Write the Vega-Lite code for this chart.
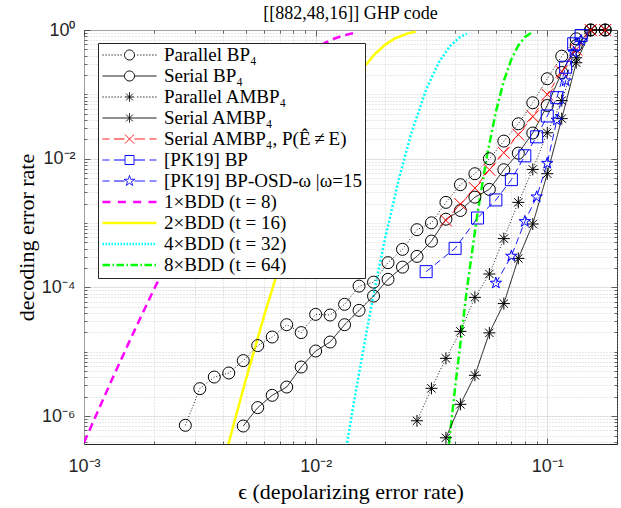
{
  "$schema": "https://vega.github.io/schema/vega-lite/v6.json",
  "width": 533,
  "height": 414,
  "autosize": {"type": "none"},
  "padding": {"left": 84, "top": 30, "right": 4, "bottom": 64},
  "background": "white",
  "title": {"text": "[[882,48,16]] GHP code", "font": "Liberation Serif", "fontSize": 18, "fontWeight": "normal", "color": "black", "offset": 9, "dy": 11, "anchor": "middle"},
  "config": {"view": {"stroke": "#262626", "strokeWidth": 1}},
  "datasets": {
    "sim": [
      {"s": "Parallel BP₄", "e": 0.0027384, "p": 7.22e-7},
      {"s": "Parallel BP₄", "e": 0.0031623, "p": 2.68e-6},
      {"s": "Parallel BP₄", "e": 0.0036517, "p": 4.06e-6},
      {"s": "Parallel BP₄", "e": 0.004217, "p": 4.69e-6},
      {"s": "Parallel BP₄", "e": 0.0048697, "p": 7.3e-6},
      {"s": "Parallel BP₄", "e": 0.0056234, "p": 1.25e-5},
      {"s": "Parallel BP₄", "e": 0.0064938, "p": 1.7e-5},
      {"s": "Parallel BP₄", "e": 0.0074989, "p": 2.64e-5},
      {"s": "Parallel BP₄", "e": 0.0086596, "p": 1.99e-5},
      {"s": "Parallel BP₄", "e": 0.01, "p": 3.82e-5},
      {"s": "Parallel BP₄", "e": 0.011548, "p": 3.73e-5},
      {"s": "Parallel BP₄", "e": 0.013335, "p": 5.47e-5},
      {"s": "Parallel BP₄", "e": 0.015399, "p": 1.05e-4},
      {"s": "Parallel BP₄", "e": 0.017783, "p": 1.21e-4},
      {"s": "Parallel BP₄", "e": 0.020535, "p": 2.43e-4},
      {"s": "Parallel BP₄", "e": 0.023714, "p": 3.91e-4},
      {"s": "Parallel BP₄", "e": 0.027384, "p": 7.9e-4},
      {"s": "Parallel BP₄", "e": 0.031623, "p": 1.01e-3},
      {"s": "Parallel BP₄", "e": 0.036517, "p": 2.1e-3},
      {"s": "Parallel BP₄", "e": 0.04217, "p": 3.95e-3},
      {"s": "Parallel BP₄", "e": 0.048697, "p": 5.85e-3},
      {"s": "Parallel BP₄", "e": 0.056234, "p": 1.0e-2},
      {"s": "Parallel BP₄", "e": 0.064938, "p": 1.88e-2},
      {"s": "Parallel BP₄", "e": 0.074989, "p": 3.49e-2},
      {"s": "Parallel BP₄", "e": 0.086596, "p": 7.41e-2},
      {"s": "Parallel BP₄", "e": 0.1, "p": 0.175},
      {"s": "Parallel BP₄", "e": 0.11548, "p": 0.392},
      {"s": "Parallel BP₄", "e": 0.13335, "p": 0.73},
      {"s": "Parallel BP₄", "e": 0.15399, "p": 1},
      {"s": "Parallel BP₄", "e": 0.17783, "p": 1},
      {"s": "Serial BP₄", "e": 0.0048697, "p": 7.04e-7},
      {"s": "Serial BP₄", "e": 0.0056234, "p": 1.36e-6},
      {"s": "Serial BP₄", "e": 0.0064938, "p": 2.11e-6},
      {"s": "Serial BP₄", "e": 0.0074989, "p": 2.84e-6},
      {"s": "Serial BP₄", "e": 0.0086596, "p": 5.81e-6},
      {"s": "Serial BP₄", "e": 0.01, "p": 1.03e-5},
      {"s": "Serial BP₄", "e": 0.011548, "p": 1.42e-5},
      {"s": "Serial BP₄", "e": 0.013335, "p": 2.64e-5},
      {"s": "Serial BP₄", "e": 0.015399, "p": 4.41e-5},
      {"s": "Serial BP₄", "e": 0.017783, "p": 7.35e-5},
      {"s": "Serial BP₄", "e": 0.020535, "p": 1.34e-4},
      {"s": "Serial BP₄", "e": 0.023714, "p": 2.07e-4},
      {"s": "Serial BP₄", "e": 0.027384, "p": 3.04e-4},
      {"s": "Serial BP₄", "e": 0.031623, "p": 5.25e-4},
      {"s": "Serial BP₄", "e": 0.036517, "p": 1.15e-3},
      {"s": "Serial BP₄", "e": 0.04217, "p": 1.57e-3},
      {"s": "Serial BP₄", "e": 0.048697, "p": 2.53e-3},
      {"s": "Serial BP₄", "e": 0.056234, "p": 3.34e-3},
      {"s": "Serial BP₄", "e": 0.064938, "p": 6.75e-3},
      {"s": "Serial BP₄", "e": 0.074989, "p": 1.22e-2},
      {"s": "Serial BP₄", "e": 0.086596, "p": 2.51e-2},
      {"s": "Serial BP₄", "e": 0.1, "p": 6.72e-2},
      {"s": "Serial BP₄", "e": 0.11548, "p": 0.219},
      {"s": "Serial BP₄", "e": 0.13335, "p": 0.574},
      {"s": "Serial BP₄", "e": 0.15399, "p": 1},
      {"s": "Serial BP₄", "e": 0.17783, "p": 1},
      {"s": "Parallel AMBP₄", "e": 0.027384, "p": 8.49e-7},
      {"s": "Parallel AMBP₄", "e": 0.031623, "p": 2.71e-6},
      {"s": "Parallel AMBP₄", "e": 0.036517, "p": 7.92e-6},
      {"s": "Parallel AMBP₄", "e": 0.04217, "p": 2.08e-5},
      {"s": "Parallel AMBP₄", "e": 0.048697, "p": 7.02e-5},
      {"s": "Parallel AMBP₄", "e": 0.056234, "p": 1.62e-4},
      {"s": "Parallel AMBP₄", "e": 0.064938, "p": 5.74e-4},
      {"s": "Parallel AMBP₄", "e": 0.074989, "p": 2.1e-3},
      {"s": "Parallel AMBP₄", "e": 0.086596, "p": 6.82e-3},
      {"s": "Parallel AMBP₄", "e": 0.1, "p": 2.53e-2},
      {"s": "Parallel AMBP₄", "e": 0.11548, "p": 0.08},
      {"s": "Parallel AMBP₄", "e": 0.13335, "p": 0.37},
      {"s": "Parallel AMBP₄", "e": 0.15399, "p": 1},
      {"s": "Parallel AMBP₄", "e": 0.17783, "p": 1},
      {"s": "Serial AMBP₄", "e": 0.036517, "p": 4.62e-7},
      {"s": "Serial AMBP₄", "e": 0.04217, "p": 1.53e-6},
      {"s": "Serial AMBP₄", "e": 0.048697, "p": 4.32e-6},
      {"s": "Serial AMBP₄", "e": 0.056234, "p": 1.97e-5},
      {"s": "Serial AMBP₄", "e": 0.064938, "p": 5.62e-5},
      {"s": "Serial AMBP₄", "e": 0.074989, "p": 2.83e-4},
      {"s": "Serial AMBP₄", "e": 0.086596, "p": 9.68e-4},
      {"s": "Serial AMBP₄", "e": 0.1, "p": 5.85e-3},
      {"s": "Serial AMBP₄", "e": 0.11548, "p": 4.2e-2},
      {"s": "Serial AMBP₄", "e": 0.13335, "p": 0.31},
      {"s": "Serial AMBP₄", "e": 0.15399, "p": 1},
      {"s": "Serial AMBP₄", "e": 0.17783, "p": 1},
      {"s": "Serial AMBP₄, P(Ê\u2009≠\u2009E)", "e": 0.036517, "p": 1.1e-3},
      {"s": "Serial AMBP₄, P(Ê\u2009≠\u2009E)", "e": 0.04217, "p": 1.97e-3},
      {"s": "Serial AMBP₄, P(Ê\u2009≠\u2009E)", "e": 0.048697, "p": 3.49e-3},
      {"s": "Serial AMBP₄, P(Ê\u2009≠\u2009E)", "e": 0.056234, "p": 6.75e-3},
      {"s": "Serial AMBP₄, P(Ê\u2009≠\u2009E)", "e": 0.064938, "p": 1.24e-2},
      {"s": "Serial AMBP₄, P(Ê\u2009≠\u2009E)", "e": 0.074989, "p": 2.37e-2},
      {"s": "Serial AMBP₄, P(Ê\u2009≠\u2009E)", "e": 0.086596, "p": 4.54e-2},
      {"s": "Serial AMBP₄, P(Ê\u2009≠\u2009E)", "e": 0.1, "p": 9.96e-2},
      {"s": "Serial AMBP₄, P(Ê\u2009≠\u2009E)", "e": 0.11548, "p": 0.227},
      {"s": "Serial AMBP₄, P(Ê\u2009≠\u2009E)", "e": 0.13335, "p": 0.498},
      {"s": "Serial AMBP₄, P(Ê\u2009≠\u2009E)", "e": 0.15399, "p": 1},
      {"s": "Serial AMBP₄, P(Ê\u2009≠\u2009E)", "e": 0.17783, "p": 1},
      {"s": "[PK19] BP", "e": 0.03, "p": 1.76e-4},
      {"s": "[PK19] BP", "e": 0.04, "p": 4.05e-4},
      {"s": "[PK19] BP", "e": 0.05, "p": 1.2e-3},
      {"s": "[PK19] BP", "e": 0.06, "p": 2.29e-3},
      {"s": "[PK19] BP", "e": 0.07, "p": 4.73e-3},
      {"s": "[PK19] BP", "e": 0.08, "p": 1.11e-2},
      {"s": "[PK19] BP", "e": 0.09, "p": 2.19e-2},
      {"s": "[PK19] BP", "e": 0.1, "p": 4.62e-2},
      {"s": "[PK19] BP", "e": 0.11, "p": 8.89e-2},
      {"s": "[PK19] BP", "e": 0.12, "p": 0.264},
      {"s": "[PK19] BP", "e": 0.13, "p": 0.61},
      {"s": "[PK19] BP", "e": 0.14, "p": 0.82},
      {"s": "[PK19] BP-OSD-ω |ω=15", "e": 0.06, "p": 1.17e-4},
      {"s": "[PK19] BP-OSD-ω |ω=15", "e": 0.07, "p": 3.07e-4},
      {"s": "[PK19] BP-OSD-ω |ω=15", "e": 0.08, "p": 1.06e-3},
      {"s": "[PK19] BP-OSD-ω |ω=15", "e": 0.09, "p": 2.56e-3},
      {"s": "[PK19] BP-OSD-ω |ω=15", "e": 0.1, "p": 8.51e-3},
      {"s": "[PK19] BP-OSD-ω |ω=15", "e": 0.11, "p": 3.99e-2},
      {"s": "[PK19] BP-OSD-ω |ω=15", "e": 0.12, "p": 0.162},
      {"s": "[PK19] BP-OSD-ω |ω=15", "e": 0.13, "p": 0.447},
      {"s": "[PK19] BP-OSD-ω |ω=15", "e": 0.14, "p": 0.687}
    ],
    "bdd": [
      {"s": "1×BDD (t = 8)", "e": 0.001, "p": 3.9e-7},
      {"s": "1×BDD (t = 8)", "e": 0.0013, "p": 3.28e-6},
      {"s": "1×BDD (t = 8)", "e": 0.0016, "p": 1.68e-5},
      {"s": "1×BDD (t = 8)", "e": 0.002, "p": 9.2e-5},
      {"s": "1×BDD (t = 8)", "e": 0.0025, "p": 4.66e-4},
      {"s": "1×BDD (t = 8)", "e": 0.003, "p": 1.64e-3},
      {"s": "1×BDD (t = 8)", "e": 0.004, "p": 1.019e-2},
      {"s": "1×BDD (t = 8)", "e": 0.005, "p": 3.58e-2},
      {"s": "1×BDD (t = 8)", "e": 0.006, "p": 8.82e-2},
      {"s": "1×BDD (t = 8)", "e": 0.007, "p": 0.1706},
      {"s": "1×BDD (t = 8)", "e": 0.008, "p": 0.2782},
      {"s": "1×BDD (t = 8)", "e": 0.009, "p": 0.3999},
      {"s": "1×BDD (t = 8)", "e": 0.01, "p": 0.5209},
      {"s": "1×BDD (t = 8)", "e": 0.011, "p": 0.634},
      {"s": "1×BDD (t = 8)", "e": 0.012, "p": 0.7306},
      {"s": "1×BDD (t = 8)", "e": 0.013, "p": 0.8086},
      {"s": "1×BDD (t = 8)", "e": 0.014, "p": 0.8683},
      {"s": "1×BDD (t = 8)", "e": 0.015, "p": 0.912},
      {"s": "1×BDD (t = 8)", "e": 0.0152, "p": 0.9195},
      {"s": "2×BDD (t = 16)", "e": 0.004, "p": 1.88e-7},
      {"s": "2×BDD (t = 16)", "e": 0.0045, "p": 9.31e-7},
      {"s": "2×BDD (t = 16)", "e": 0.005, "p": 3.73e-6},
      {"s": "2×BDD (t = 16)", "e": 0.006, "p": 3.69e-5},
      {"s": "2×BDD (t = 16)", "e": 0.007, "p": 2.27e-4},
      {"s": "2×BDD (t = 16)", "e": 0.008, "p": 9.87e-4},
      {"s": "2×BDD (t = 16)", "e": 0.009, "p": 3.29e-3},
      {"s": "2×BDD (t = 16)", "e": 0.01, "p": 8.93e-3},
      {"s": "2×BDD (t = 16)", "e": 0.011, "p": 2.05e-2},
      {"s": "2×BDD (t = 16)", "e": 0.012, "p": 4.11e-2},
      {"s": "2×BDD (t = 16)", "e": 0.014, "p": 0.1197},
      {"s": "2×BDD (t = 16)", "e": 0.016, "p": 0.2532},
      {"s": "2×BDD (t = 16)", "e": 0.018, "p": 0.4223},
      {"s": "2×BDD (t = 16)", "e": 0.02, "p": 0.5943},
      {"s": "2×BDD (t = 16)", "e": 0.022, "p": 0.741},
      {"s": "2×BDD (t = 16)", "e": 0.025, "p": 0.8881},
      {"s": "2×BDD (t = 16)", "e": 0.027, "p": 0.9421},
      {"s": "4×BDD (t = 32)", "e": 0.0135, "p": 2.92e-7},
      {"s": "4×BDD (t = 32)", "e": 0.014, "p": 6.43e-7},
      {"s": "4×BDD (t = 32)", "e": 0.015, "p": 2.755e-6},
      {"s": "4×BDD (t = 32)", "e": 0.017, "p": 3.31e-5},
      {"s": "4×BDD (t = 32)", "e": 0.0185, "p": 1.57e-4},
      {"s": "4×BDD (t = 32)", "e": 0.02, "p": 6.04e-4},
      {"s": "4×BDD (t = 32)", "e": 0.023, "p": 5.25e-3},
      {"s": "4×BDD (t = 32)", "e": 0.026, "p": 2.627e-2},
      {"s": "4×BDD (t = 32)", "e": 0.03, "p": 0.1186},
      {"s": "4×BDD (t = 32)", "e": 0.034, "p": 0.3124},
      {"s": "4×BDD (t = 32)", "e": 0.038, "p": 0.5607},
      {"s": "4×BDD (t = 32)", "e": 0.042, "p": 0.774},
      {"s": "4×BDD (t = 32)", "e": 0.045, "p": 0.8804},
      {"s": "8×BDD (t = 64)", "e": 0.037, "p": 2.1e-7},
      {"s": "8×BDD (t = 64)", "e": 0.038, "p": 5.17e-7},
      {"s": "8×BDD (t = 64)", "e": 0.04, "p": 2.79e-6},
      {"s": "8×BDD (t = 64)", "e": 0.045, "p": 9.53e-5},
      {"s": "8×BDD (t = 64)", "e": 0.05, "p": 1.444e-3},
      {"s": "8×BDD (t = 64)", "e": 0.055, "p": 1.14e-2},
      {"s": "8×BDD (t = 64)", "e": 0.06, "p": 5.36e-2},
      {"s": "8×BDD (t = 64)", "e": 0.065, "p": 0.1635},
      {"s": "8×BDD (t = 64)", "e": 0.07, "p": 0.3517},
      {"s": "8×BDD (t = 64)", "e": 0.075, "p": 0.5768},
      {"s": "8×BDD (t = 64)", "e": 0.08, "p": 0.7717},
      {"s": "8×BDD (t = 64)", "e": 0.085, "p": 0.8987}
    ]
  },
  "layer": [
    {
      "data": {"name": "bdd"},
      "mark": {"type": "line", "strokeWidth": 2.5, "clip": true},
      "encoding": {
        "x": {"field": "e", "type": "quantitative", "scale": {"type": "log", "domain": [0.001, 0.2], "nice": false},
          "axis": {"orient": "top", "values": [0.001,0.002,0.003,0.004,0.005,0.006,0.007,0.008,0.009,0.01,0.02,0.03,0.04,0.05,0.06,0.07,0.08,0.09,0.1,0.2],
            "labels": false, "grid": false, "domain": false, "title": null, "tickColor": "#262626", "tickWidth": 0.7,
            "tickSize": {"condition": {"test": "datum.value == 0.001 || datum.value == 0.01 || datum.value == 0.1", "value": -6}, "value": -3}}},
        "y": {"field": "p", "type": "quantitative", "scale": {"type": "log", "domain": [3.7e-7, 1], "nice": false},
          "axis": {"orient": "right", "values": [4e-7,5e-7,6e-7,7e-7,8e-7,9e-7,1e-6,2e-6,3e-6,4e-6,5e-6,6e-6,7e-6,8e-6,9e-6,1e-5,2e-5,3e-5,4e-5,5e-5,6e-5,7e-5,8e-5,9e-5,0.0001,0.0002,0.0003,0.0004,0.0005,0.0006,0.0007,0.0008,0.0009,0.001,0.002,0.003,0.004,0.005,0.006,0.007,0.008,0.009,0.01,0.02,0.03,0.04,0.05,0.06,0.07,0.08,0.09,0.1,0.2,0.3,0.4,0.5,0.6,0.7,0.8,0.9,1],
            "labels": false, "grid": false, "domain": false, "title": null, "tickColor": "#262626", "tickWidth": 0.7,
            "tickSize": {"condition": {"test": "datum.value == 1 || datum.value == 0.01 || datum.value == 0.0001 || datum.value == 0.000001", "value": -6}, "value": -3}}},
        "color": {"field": "s", "type": "nominal",
          "scale": {"domain": ["Parallel BP₄","Serial BP₄","Parallel AMBP₄","Serial AMBP₄","Serial AMBP₄, P(Ê\u2009≠\u2009E)","[PK19] BP","[PK19] BP-OSD-ω |ω=15","1×BDD (t = 8)","2×BDD (t = 16)","4×BDD (t = 32)","8×BDD (t = 64)"],
            "range": ["#000000","#000000","#000000","#000000","#ff0000","#0000ff","#0000ff","#ff00ff","#ffff00","#00ffff","#00ff00"]}},
        "strokeDash": {"field": "s", "type": "nominal",
          "scale": {"domain": ["8×BDD (t = 64)","4×BDD (t = 32)","2×BDD (t = 16)","1×BDD (t = 8)","[PK19] BP-OSD-ω |ω=15","[PK19] BP","Serial AMBP₄, P(Ê\u2009≠\u2009E)","Serial AMBP₄","Parallel AMBP₄","Serial BP₄","Parallel BP₄"],
            "range": [[8,3,2,3],[2,2],[1,0],[8,5],[7,4],[7,4],[6,4],[1,0],[1,2],[1,0],[1,2]]},
          "legend": null}
      }
    },
    {
      "data": {"name": "sim"},
      "mark": {"type": "line", "strokeWidth": 0.9},
      "encoding": {
        "x": {"field": "e", "type": "quantitative", "scale": {"type": "log", "domain": [0.001, 0.2], "nice": false},
          "axis": {"orient": "bottom", "values": [0.001,0.002,0.003,0.004,0.005,0.006,0.007,0.008,0.009,0.01,0.02,0.03,0.04,0.05,0.06,0.07,0.08,0.09,0.1,0.2],
            "labelExpr": "datum.value == 0.001 ? '10⁻³' : datum.value == 0.01 ? '10⁻²' : datum.value == 0.1 ? '10⁻¹' : ''",
            "labelFont": "Liberation Sans", "labelFontSize": 18, "labelColor": "#262626", "labelFlush": false, "labelOverlap": false, "labelPadding": 19,
            "tickColor": "#262626", "tickWidth": 0.7,
            "tickSize": {"condition": {"test": "datum.value == 0.001 || datum.value == 0.01 || datum.value == 0.1", "value": -6}, "value": -3},
            "grid": true, "gridWidth": 0.7,
            "gridColor": {"condition": {"test": "datum.value == 0.001 || datum.value == 0.01 || datum.value == 0.1", "value": "#d4d4d4"}, "value": "#bdbdbd"},
            "gridDash": {"condition": {"test": "datum.value == 0.001 || datum.value == 0.01 || datum.value == 0.1", "value": []}, "value": [1,2]},
            "domain": false,
            "title": "ϵ (depolarizing error rate)", "titleFont": "Liberation Serif", "titleFontSize": 22, "titleFontWeight": "normal", "titleColor": "black", "titlePadding": 3}},
        "y": {"field": "p", "type": "quantitative", "scale": {"type": "log", "domain": [3.7e-7, 1], "nice": false},
          "axis": {"orient": "left", "values": [4e-7,5e-7,6e-7,7e-7,8e-7,9e-7,1e-6,2e-6,3e-6,4e-6,5e-6,6e-6,7e-6,8e-6,9e-6,1e-5,2e-5,3e-5,4e-5,5e-5,6e-5,7e-5,8e-5,9e-5,0.0001,0.0002,0.0003,0.0004,0.0005,0.0006,0.0007,0.0008,0.0009,0.001,0.002,0.003,0.004,0.005,0.006,0.007,0.008,0.009,0.01,0.02,0.03,0.04,0.05,0.06,0.07,0.08,0.09,0.1,0.2,0.3,0.4,0.5,0.6,0.7,0.8,0.9,1],
            "labelExpr": "datum.value == 1 ? '10⁰' : datum.value == 0.01 ? '10⁻²' : datum.value == 0.0001 ? '10⁻⁴' : datum.value == 0.000001 ? '10⁻⁶' : ''",
            "labelFont": "Liberation Sans", "labelFontSize": 18, "labelColor": "#262626", "labelFlush": false, "labelOverlap": false, "labelPadding": 15,
            "tickColor": "#262626", "tickWidth": 0.7,
            "tickSize": {"condition": {"test": "datum.value == 1 || datum.value == 0.01 || datum.value == 0.0001 || datum.value == 0.000001", "value": -6}, "value": -3},
            "grid": true, "gridWidth": 0.7,
            "gridColor": {"condition": {"test": "datum.value == 1 || datum.value == 0.01 || datum.value == 0.0001 || datum.value == 0.000001", "value": "#d4d4d4"}, "value": "#bdbdbd"},
            "gridDash": {"condition": {"test": "datum.value == 1 || datum.value == 0.01 || datum.value == 0.0001 || datum.value == 0.000001", "value": []}, "value": [1,2]},
            "domain": false,
            "title": "decoding error rate", "titleFont": "Liberation Serif", "titleFontSize": 22, "titleFontWeight": "normal", "titleColor": "black", "titlePadding": 3}},
        "color": {"field": "s", "type": "nominal",
          "scale": {"domain": ["Parallel BP₄","Serial BP₄","Parallel AMBP₄","Serial AMBP₄","Serial AMBP₄, P(Ê\u2009≠\u2009E)","[PK19] BP","[PK19] BP-OSD-ω |ω=15","1×BDD (t = 8)","2×BDD (t = 16)","4×BDD (t = 32)","8×BDD (t = 64)"],
            "range": ["#000000","#000000","#000000","#000000","#ff0000","#0000ff","#0000ff","#ff00ff","#ffff00","#00ffff","#00ff00"]},
          "legend": {
            "orient": "none", "legendX": 14, "legendY": 13, "title": null,
            "fillColor": "white", "strokeColor": "#262626", "padding": 2.5, "cornerRadius": 0,
            "labelFont": "Liberation Serif", "labelFontSize": 19, "labelColor": "black", "labelLimit": 400,
            "symbolSize": 100, "symbolOffset": 19.5, "labelOffset": 25, "rowPadding": 1.0,
            "symbolStrokeWidth": 1, "symbolFillColor": "transparent",
            "encode": {"symbols": {"update": {
              "shape": {"signal": "['M-5.4,0h0.25M-4.8,0h0.25M-4.2,0h0.25M-3.6,0h0.25M-3,0h0.25M-2.4,0h0.25M-1.8,0h0.25M1.55,0h0.25M2.15,0h0.25M2.75,0h0.25M3.35,0h0.25M3.95,0h0.25M4.55,0h0.25M5.15,0h0.25M1,0A1,1 0 1 1 -1,0A1,1 0 1 1 1,0', 'M-5.4,0H-1M1,0H5.4M1,0A1,1 0 1 1 -1,0A1,1 0 1 1 1,0', 'M-5.4,0h0.25M-4.8,0h0.25M-4.2,0h0.25M-3.6,0h0.25M-3,0h0.25M-2.4,0h0.25M-1.8,0h0.25M1.55,0h0.25M2.15,0h0.25M2.75,0h0.25M3.35,0h0.25M3.95,0h0.25M4.55,0h0.25M5.15,0h0.25M0,-0.95V0.95M-0.95,0H0.95M-0.67,-0.67L0.67,0.67M-0.67,0.67L0.67,-0.67', 'M-5.4,0H5.4M0,-0.95V0.95M-0.67,-0.67L0.67,0.67M-0.67,0.67L0.67,-0.67', 'M-5.4,0H-4M-3.1,0H-1M1,0H3.1M4,0H5.4M-0.9,-0.9L0.9,0.9M-0.9,0.9L0.9,-0.9', 'M-5.4,0H-4M-3.1,0H-0.9M0.9,0H3.1M4,0H5.4M-0.9,-0.9H0.9V0.9H-0.9Z', 'M-5.4,0H-4M-3.1,0H-1M1,0H3.1M4,0H5.4M0,-1.1L0.247,-0.34L1.046,-0.34L0.399,0.13L0.647,0.89L0,0.42L-0.647,0.89L-0.399,0.13L-1.046,-0.34L-0.247,-0.34Z', 'M-5.4,0H-3.8M-2.33,0H-0.73M0.73,0H2.33M3.8,0H5.4', 'M-5.4,0H5.4', 'M-5.4,0h0.3M-4.8,0h0.3M-4.2,0h0.3M-3.6,0h0.3M-3,0h0.3M-2.4,0h0.3M-1.8,0h0.3M-1.2,0h0.3M-0.6,0h0.3M0,0h0.3M0.6,0h0.3M1.2,0h0.3M1.8,0h0.3M2.4,0h0.3M3,0h0.3M3.6,0h0.3M4.2,0h0.3M4.8,0h0.3', 'M-5.4,0H-3.9M-3.4,0H-3.1M-2.6,0H-1.1M-0.6,0H-0.3M0.2,0H1.7M2.2,0H2.5M3,0H4.5M5,0H5.3'][indexof(domain('color'), datum.value)]"},
              "strokeWidth": {"signal": "indexof(domain('color'), datum.value) >= 7 ? 2.5 : 1"},
              "stroke": {"scale": "color", "field": "value"},
              "fill": {"value": "transparent"},
              "strokeDash": {"value": [1, 0]},
              "opacity": {"value": 1}
            }}}
          }},
        "strokeDash": {"field": "s", "type": "nominal",
          "scale": {"domain": ["8×BDD (t = 64)","4×BDD (t = 32)","2×BDD (t = 16)","1×BDD (t = 8)","[PK19] BP-OSD-ω |ω=15","[PK19] BP","Serial AMBP₄, P(Ê\u2009≠\u2009E)","Serial AMBP₄","Parallel AMBP₄","Serial BP₄","Parallel BP₄"],
            "range": [[8,3,2,3],[2,2],[1,0],[8,5],[7,4],[7,4],[6,4],[1,0],[1,2],[1,0],[1,2]]},
          "legend": null}
      }
    },
    {
      "data": {"name": "sim"},
      "mark": {"type": "point", "filled": false, "strokeWidth": 1, "opacity": 1},
      "encoding": {
        "x": {"field": "e", "type": "quantitative", "scale": {"type": "log", "domain": [0.001, 0.2], "nice": false}, "axis": null},
        "y": {"field": "p", "type": "quantitative", "scale": {"type": "log", "domain": [3.7e-7, 1], "nice": false}, "axis": null},
        "color": {"field": "s", "type": "nominal",
          "scale": {"domain": ["Parallel BP₄","Serial BP₄","Parallel AMBP₄","Serial AMBP₄","Serial AMBP₄, P(Ê\u2009≠\u2009E)","[PK19] BP","[PK19] BP-OSD-ω |ω=15","1×BDD (t = 8)","2×BDD (t = 16)","4×BDD (t = 32)","8×BDD (t = 64)"],
            "range": ["#000000","#000000","#000000","#000000","#ff0000","#0000ff","#0000ff","#ff00ff","#ffff00","#00ffff","#00ff00"]}},
        "shape": {"field": "s", "type": "nominal",
          "scale": {"domain": ["Parallel BP₄","Serial BP₄","Parallel AMBP₄","Serial AMBP₄","Serial AMBP₄, P(Ê\u2009≠\u2009E)","[PK19] BP","[PK19] BP-OSD-ω |ω=15"],
            "range": ["circle","circle","M0,-1V1M-1,0H1M-0.7,-0.7L0.7,0.7M-0.7,0.7L0.7,-0.7","M0,-1V1M-1,0H1M-0.7,-0.7L0.7,0.7M-0.7,0.7L0.7,-0.7","M-1,-1L1,1M-1,1L1,-1","square","M0,-1L0.225,-0.309L0.951,-0.309L0.363,0.118L0.588,0.809L0,0.382L-0.588,0.809L-0.363,0.118L-0.951,-0.309L-0.225,-0.309Z"]},
          "legend": null},
        "size": {"field": "s", "type": "nominal",
          "scale": {"domain": ["Parallel BP₄","Serial BP₄","Parallel AMBP₄","Serial AMBP₄","Serial AMBP₄, P(Ê\u2009≠\u2009E)","[PK19] BP","[PK19] BP-OSD-ω |ω=15"],
            "range": [144,144,121,121,90,90,144]},
          "legend": null}
      }
    }
  ]
}
